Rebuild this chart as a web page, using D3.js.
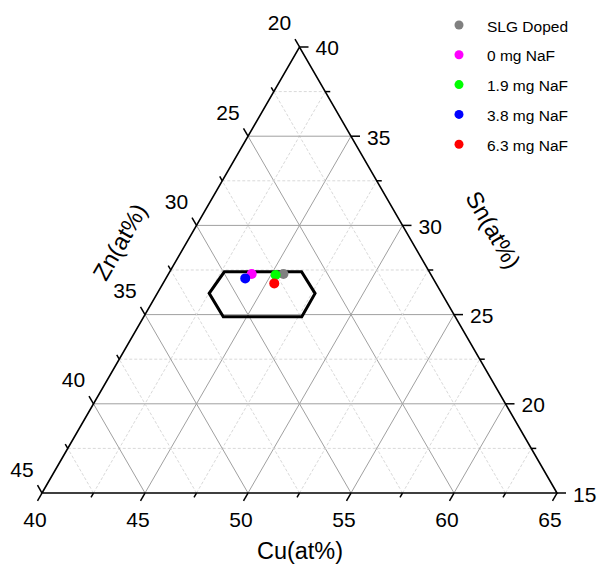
<!DOCTYPE html>
<html>
<head>
<meta charset="utf-8">
<script src="https://cdn.jsdelivr.net/npm/d3@7"></script>
<style>
  body { margin: 0; background: #fff; }
  text { font-family: Arial, "Liberation Sans", sans-serif; fill: #000; }
</style>
</head>
<body>
<svg width="600" height="570"></svg>
<script>
// ternary plot: Cu-Sn-Zn compositions

var series = ["SLG Doped", "0 mg NaF", "1.9 mg NaF", "3.8 mg NaF", "6.3 mg NaF"];
var colors = ["#808080", "#ff00ff", "#00ff00", "#0000ff", "#ff0000"];
var cuVals = [45.58, 44.04, 45.23, 43.85, 45.40];
var snVals = [27.28, 27.28, 27.22, 27.03, 26.75];
var znVals = [27.14, 28.68, 27.55, 29.12, 27.85];

// hexagon region
var hexCu = [42.65, 46.40, 47.66, 47.67, 43.86, 42.52];
var hexSn = [27.40, 27.40, 26.19, 24.88, 24.88, 26.19];
var hexZn = [29.95, 26.20, 26.15, 27.45, 31.26, 31.29];

var cuTicks = [40, 45, 50, 55, 60, 65];
var snTicks = [15, 20, 25, 30, 35, 40];
var znTicks = [20, 25, 30, 35, 40, 45];

var svg = d3.select("svg");

var xL = 42, xR = 557, yB = 493;
var W = xR - xL;
var H = W * Math.sqrt(3) / 2;

var cuScale = d3.scaleLinear().domain([40, 65]).range([0, 1]);
var snScale = d3.scaleLinear().domain([15, 40]).range([0, 1]);
var znScale = d3.scaleLinear().domain([20, 45]).range([0, 1]);

function proj(cu, sn) {
    var a = cuScale(cu), b = snScale(sn);
    return [xL + a * W + b * W / 2, yB - b * H];
}

var line = d3.line();

// grid lines
var grid = svg.append("g");
var gridVals = d3.range(0, 11).map(function(i) { return i * 2.5; });
gridVals.forEach(function(v, i) {
    if (i == 0 || i == 10) return;
    var major = i % 2 == 0;
    var stroke = major ? "#a0a0a0" : "#d9d9d9";
    var dash = major ? null : "3,2";
    // constant Cu
    var cu = 40 + v;
    var l1 = [proj(cu, 15), proj(cu, 15 + (65 - cu))];
    // constant Sn
    var sn = 15 + v;
    var l2 = [proj(40, sn), proj(40 + (40 - sn), sn)];
    // constant Zn
    var zn = 20 + v;
    var l3 = [proj(100 - zn - 15, 15), proj(40, 100 - zn - 40)];
    [l1, l2, l3].forEach(function(l) {
        grid.append("path")
            .attr("d", line(l))
            .attr("fill", "none")
            .attr("stroke", stroke)
            .attr("stroke-width", 1)
            .attr("stroke-dasharray", dash);
    });
});

// triangle
svg.append("path")
    .attr("d", line([proj(40, 15), proj(65, 15), proj(40, 40)]) + "Z")
    .attr("fill", "none")
    .attr("stroke", "#000")
    .attr("stroke-width", 1.6);

// ticks
var ticks = svg.append("g");
var minorVals = d3.range(0, 11).map(function(i) { return i * 2.5; });
minorVals.forEach(function(v, i) {
    var len = i % 2 == 0 ? 9 : 5;
    // Cu bottom axis
    var p = proj(40 + v, 15);
    ticks.append("line").attr("x1", p[0]).attr("y1", p[1])
        .attr("x2", p[0] - 0.5 * len).attr("y2", p[1] + 0.866 * len);
    // Sn right axis
    p = proj(65 - v, 15 + v);
    ticks.append("line").attr("x1", p[0]).attr("y1", p[1])
        .attr("x2", p[0] + len).attr("y2", p[1]);
    // Zn left axis
    p = proj(40, 40 - v);
    ticks.append("line").attr("x1", p[0]).attr("y1", p[1])
        .attr("x2", p[0] - 0.5 * len).attr("y2", p[1] - 0.866 * len);
});
ticks.selectAll("line").attr("stroke", "#000").attr("stroke-width", 1.5);

// tick labels
var labels = svg.append("g").attr("font-size", 21);
cuTicks.forEach(function(t) {
    var p = proj(t, 15);
    labels.append("text").attr("x", p[0] - 7).attr("y", p[1] + 26)
        .attr("text-anchor", "middle").attr("dominant-baseline", "central").text(t);
});
snTicks.forEach(function(t) {
    var p = proj(40 + (40 - t), t);
    labels.append("text").attr("x", p[0] + 16).attr("y", p[1] + 1)
        .attr("text-anchor", "start").attr("dominant-baseline", "central").text(t);
});
znTicks.forEach(function(t) {
    var p = proj(40, 100 - t - 40);
    labels.append("text").attr("x", p[0] - 20).attr("y", p[1] - 24)
        .attr("text-anchor", "middle").attr("dominant-baseline", "central").text(t);
});

// axis titles
svg.append("text").attr("x", 300).attr("y", 551).attr("font-size", 23.5)
    .attr("text-anchor", "middle").attr("dominant-baseline", "central").text("Cu(at%)");
svg.append("text").attr("transform", "translate(493,230) rotate(60)").attr("font-size", 23.5)
    .attr("text-anchor", "middle").attr("dominant-baseline", "central").text("Sn(at%)");
svg.append("text").attr("transform", "translate(120,242) rotate(-60)").attr("font-size", 23.5)
    .attr("text-anchor", "middle").attr("dominant-baseline", "central").text("Zn(at%)");

// hexagon
var hexPts = hexCu.map(function(c, i) { return proj(c, hexSn[i]); });
svg.append("path")
    .attr("d", line(hexPts) + "Z")
    .attr("fill", "none")
    .attr("stroke", "#000")
    .attr("stroke-width", 3);

// data points
svg.append("g").selectAll("circle")
    .data(series)
    .enter()
    .append("circle")
    .attr("cx", function(d, i) { return proj(cuVals[i], snVals[i])[0]; })
    .attr("cy", function(d, i) { return proj(cuVals[i], snVals[i])[1]; })
    .attr("r", 5)
    .attr("fill", function(d, i) { return colors[i]; });

// legend
var legend = svg.append("g").attr("transform", "translate(459,25)");
var item = legend.selectAll("g")
    .data(series)
    .enter()
    .append("g")
    .attr("transform", function(d, i) { return "translate(0," + (i * 29.8) + ")"; });
item.append("circle").attr("r", 4.5).attr("fill", function(d, i) { return colors[i]; });
item.append("text").attr("x", 28).attr("y", 1).attr("font-size", 15.5)
    .attr("dominant-baseline", "central").text(function(d) { return d; });
</script>
</body>
</html>
